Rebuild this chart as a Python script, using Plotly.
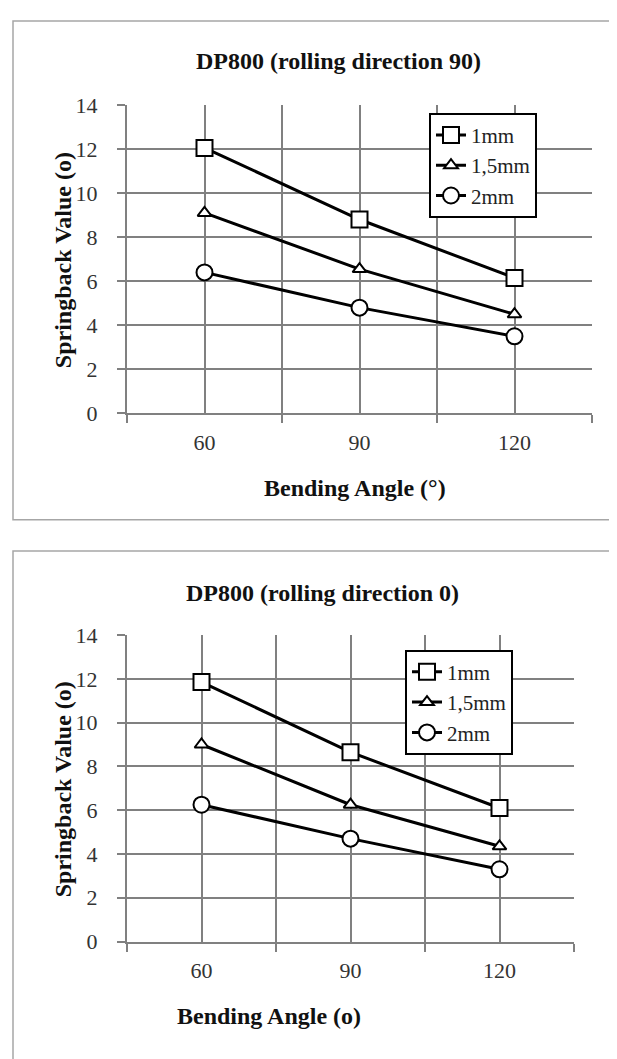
import plotly.graph_objects as go

# ---- data ----
angles = [60, 90, 120]
angle_labels = ["60", "90", "120"]
series_names = ["1mm", "1,5mm", "2mm"]

rd90_1mm = [12.05, 8.8, 6.15]
rd90_15mm = [9.1, 6.55, 4.5]
rd90_2mm = [6.4, 4.8, 3.5]

rd0_1mm = [11.85, 8.65, 6.1]
rd0_15mm = [9.0, 6.25, 4.35]
rd0_2mm = [6.25, 4.7, 3.3]

title_top = "DP800 (rolling direction 90)"
title_bot = "DP800 (rolling direction 0)"
xtitle_top = "Bending Angle (°)"
xtitle_bot = "Bending Angle (o)"
ytitle = "Springback Value (o)"

# page body margin offset (browser default 8px)
OFF = 8
W, H = 617 - OFF, 1059 - OFF
FONT = "Liberation Serif, Times New Roman, serif"
GRID = "#808080"

def px(x):
    return (x - OFF) / W

def py(y):
    return 1 - (y - OFF) / H

symbols = ["square", "triangle-up", "circle"]
sizes = [16, 12, 16]

fig = go.Figure()

for vals_list, xa, ya, lg in [
    ([rd90_1mm, rd90_15mm, rd90_2mm], "x", "y", "legend"),
    ([rd0_1mm, rd0_15mm, rd0_2mm], "x2", "y2", "legend2"),
]:
    for name, vals, sym, sz in zip(series_names, vals_list, symbols, sizes):
        fig.add_trace(go.Scatter(
            x=angles, y=vals, name=name, mode="lines+markers",
            xaxis=xa, yaxis=ya, legend=lg,
            line=dict(color="black", width=3),
            marker=dict(symbol=sym, size=sz, color="white",
                        line=dict(color="black", width=2)),
        ))

def xaxis_cfg(domain, anchor):
    return dict(
        domain=domain, anchor=anchor, range=[45, 135],
        tickmode="array", tickvals=angles, ticktext=angle_labels,
        ticks="", showgrid=True, gridcolor=GRID, gridwidth=2,
        showline=True, linecolor=GRID, linewidth=2,
        tickfont=dict(family=FONT, size=22, color="#333333"),
        ticklabelstandoff=8, zeroline=False, fixedrange=True,
        minor=dict(tickvals=[45, 75, 105, 135], ticks="outside", ticklen=8,
                   tickcolor=GRID, tickwidth=2, showgrid=True,
                   gridcolor=GRID, gridwidth=2),
    )

def yaxis_cfg(domain, anchor):
    return dict(
        domain=domain, anchor=anchor, range=[0, 14], dtick=2, tick0=0,
        ticks="outside", ticklen=8, tickcolor=GRID, tickwidth=2,
        showgrid=True, gridcolor=GRID, gridwidth=2,
        showline=True, linecolor=GRID, linewidth=2, zeroline=False,
        tickfont=dict(family=FONT, size=22, color="#333333"),
        ticklabelstandoff=15, fixedrange=True,
    )

legend_cfg = dict(
    bgcolor="white", bordercolor="black", borderwidth=2,
    font=dict(family=FONT, size=21, color="#222"),
    xanchor="left", yanchor="top",
    tracegroupgap=0, entrywidth=140,
)

fig.update_layout(
    width=W, height=H,
    margin=dict(l=0, r=0, t=0, b=0),
    paper_bgcolor="white", plot_bgcolor="white",
    xaxis=xaxis_cfg([px(127), px(592)], "y"),
    yaxis=yaxis_cfg([py(411), py(95)], "x"),
    xaxis2=xaxis_cfg([px(127), px(574)], "y2"),
    yaxis2=yaxis_cfg([py(952), py(638)], "x2"),
    legend=dict(legend_cfg, x=px(429), y=py(103)),
    legend2=dict(legend_cfg, x=px(405), y=py(653)),
    shapes=[
        dict(type="rect", xref="paper", yref="paper",
             x0=px(13), x1=px(615), y0=py(520), y1=py(9),
             line=dict(color="#a6a6a6", width=1.5), layer="below"),
        dict(type="rect", xref="paper", yref="paper",
             x0=px(13), x1=px(615), y0=py(1075), y1=py(552),
             line=dict(color="#a6a6a6", width=1.5), layer="below"),
    ],
)

def ann(text, x, y, angle=0):
    fig.add_annotation(
        text=text, xref="paper", yref="paper", x=px(x), y=py(y),
        xanchor="center", yanchor="middle", showarrow=False, textangle=angle,
        font=dict(family=FONT, size=24, color="#111111", weight="bold"),
    )

ann(title_top, 338, 50)
ann(title_bot, 322, 595)
ann(xtitle_top, 355, 487)
ann(xtitle_bot, 269, 1028)
ann(ytitle, 63, 254, -90)
ann(ytitle, 63, 796, -90)

fig.write_html("out.html")
